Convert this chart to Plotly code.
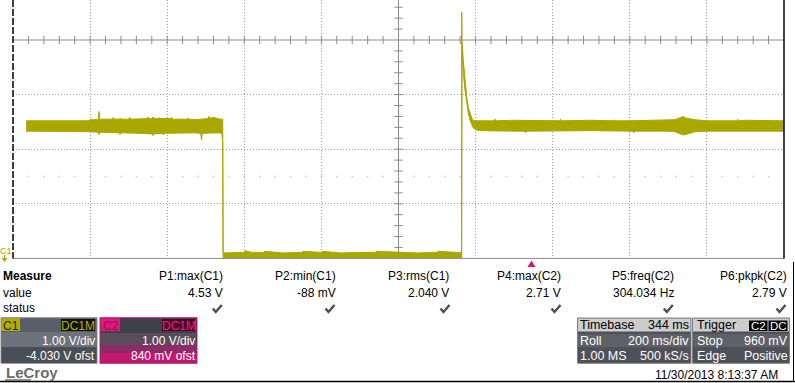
import plotly.graph_objects as go

W, H = 795, 383

# ---------------- data ----------------
t_range = [-1000, 1000]          # ms, 200 ms/div, 10 divisions
v_range = [0.03, 4.7626]         # V, 1.00 V/div, -4.030 V offset
grid_t = [-800, -600, -400, -200, 200, 400, 600, 800]
grid_v = [1.03, 2.03, 3.03]
center_t = 0
center_v = 4.03
trigger_t = 345

# C1 trace, upper envelope
hi_t = [-966, -805, -800, -779, -777, -775, -742, -740, -738, -724, -722, -720, -699, -697, -695,
        -671, -652, -650, -648, -640, -637, -634, -622, -620, -618, -590, -588, -586, -567,
        -548, -546, -544, -528, -494, -492, -490, -485, -483, -481, -479, -463, -456, -455,
        -430, -400, -398, -380, -350, -348, -300, -250, -248, -200, -198, -150, -100, -60, -58,
        0, 50, 100, 102, 150, 163.5,
        164, 164.8, 168, 172.5, 177, 181, 185.5, 190, 194, 203, 248, 250, 252, 300, 400,
        418, 420, 422, 500, 558, 560, 562, 600, 700,
        717, 735, 740, 745, 769, 800, 878, 880, 882, 900, 1000]
hi_v = [2.55, 2.55, 2.57, 2.57, 2.72, 2.58, 2.58, 2.61, 2.58, 2.58, 2.60, 2.58, 2.58, 2.61, 2.58,
        2.59, 2.59, 2.62, 2.59, 2.59, 2.62, 2.59, 2.59, 2.61, 2.59, 2.59, 2.61, 2.58, 2.58,
        2.58, 2.60, 2.58, 2.57, 2.59, 2.63, 2.60, 2.60, 2.62, 2.60, 2.61, 2.58, 2.58, 0.13,
        0.14, 0.14, 0.17, 0.14, 0.14, 0.16, 0.13, 0.14, 0.16, 0.14, 0.16, 0.13, 0.14, 0.14, 0.16,
        0.14, 0.13, 0.14, 0.16, 0.14, 0.14,
        4.54, 4.03, 3.66, 3.30, 2.99, 2.80, 2.69, 2.60, 2.55, 2.55, 2.55, 2.58, 2.55, 2.56, 2.55,
        2.55, 2.58, 2.55, 2.56, 2.55, 2.57, 2.55, 2.55, 2.56,
        2.57, 2.62, 2.63, 2.60, 2.57, 2.55, 2.55, 2.58, 2.55, 2.56, 2.55]
# C1 trace, lower envelope
lo_t = [-966, -805, -800, -779, -777, -775, -724, -722, -720, -671, -640, -637, -634,
        -612, -610, -608, -567, -528, -513, -511, -509, -479, -463, -458, -456, -455,
        164, 164.8, 168, 172.5, 177, 181, 185.5, 190, 194, 203, 211, 300, 328, 330, 332, 500,
        608, 610, 612, 700, 717, 735, 738, 750, 769, 800, 1000]
lo_v = [2.36, 2.36, 2.35, 2.34, 2.30, 2.34, 2.33, 2.30, 2.33, 2.32, 2.31, 2.28, 2.31,
        2.32, 2.29, 2.32, 2.33, 2.33, 2.32, 2.20, 2.32, 2.33, 2.33, 2.31, 2.14, 0.035,
        0.035, 3.85, 3.43, 3.11, 2.84, 2.69, 2.56, 2.47, 2.42, 2.38, 2.37, 2.36, 2.36, 2.33, 2.36,
        2.37, 2.36, 2.33, 2.36, 2.36, 2.35, 2.30, 2.29, 2.31, 2.35, 2.36, 2.36]

measure_names = ["P1:max(C1)", "P2:min(C1)", "P3:rms(C1)", "P4:max(C2)", "P5:freq(C2)", "P6:pkpk(C2)"]
measure_values = ["4.53 V", "-88 mV", "2.040 V", "2.71 V", "304.034 Hz", "2.79 V"]

# ---------------- styling / layout helpers ----------------
OLIVE = "#aaa700"
GRID = "#9c9c9c"
AXIS = "#8a8a8a"
FONT = "Liberation Sans, Arial, sans-serif"
X0, X1, YB = 13, 784, 258.4


def px(x):
    return x / W


def py(y):
    return 1 - y / H


def ann(text, x, y, anchor="left", size=12, color="#000", bold=False, family=FONT):
    if bold:
        text = "<b>" + text + "</b>"
    return dict(text=text, x=px(x), y=py(y), xref="paper", yref="paper",
                xanchor=anchor, yanchor="middle", showarrow=False, borderpad=0,
                font=dict(family=family, size=size, color=color))


def rect(x0, y0, x1, y1, fill, line=None, lw=0, layer="above"):
    return dict(type="rect", xref="paper", yref="paper", x0=px(x0), x1=px(x1),
                y0=py(y0), y1=py(y1), fillcolor=fill, layer=layer,
                line=dict(color=line or fill, width=lw))


def seg(x0, y0, x1, y1, color, width=1, dash="solid", layer="above"):
    return dict(type="line", xref="paper", yref="paper", x0=px(x0), x1=px(x1),
                y0=py(y0), y1=py(y1), layer=layer,
                line=dict(color=color, width=width, dash=dash))


fig = go.Figure()

# center-axis tick marks (graticule decoration)
tick_t = [-960 + 40 * i for i in range(49)]
tick_v = [center_v - 0.2 * i for i in range(1, 20)] + [center_v + 0.2 * i for i in range(1, 4)]
fig.add_trace(go.Scatter(x=tick_t, y=[center_v] * len(tick_t), mode="markers", hoverinfo="skip",
                         marker=dict(symbol="line-ns", size=6, line=dict(width=1, color=AXIS))))
fig.add_trace(go.Scatter(x=[center_t] * len(tick_v), y=tick_v, mode="markers", hoverinfo="skip",
                         marker=dict(symbol="line-ew", size=6, line=dict(width=1, color=AXIS))))
fig.add_trace(go.Scatter(x=tick_t, y=[1.53] * len(tick_t), mode="markers", hoverinfo="skip",
                         marker=dict(symbol="square", size=1.5, color="#c8c8c8")))
fig.add_trace(go.Scatter(x=[1011] * len(tick_v), y=tick_v, mode="markers", hoverinfo="skip",
                         cliponaxis=False,
                         marker=dict(symbol="line-ew", size=6, line=dict(width=1, color="#cfcfcf"))))

# C1 waveform as a filled envelope
fig.add_trace(go.Scatter(x=lo_t, y=lo_v, mode="lines", hoverinfo="skip",
                         line=dict(color=OLIVE, width=1)))
fig.add_trace(go.Scatter(x=hi_t, y=hi_v, mode="lines", hoverinfo="skip", fill="tonexty",
                         fillcolor=OLIVE, line=dict(color=OLIVE, width=1)))

shapes = []
# graticule borders / center lines
shapes.append(seg(398.5, 0, 398.5, YB, AXIS, 1, layer="below"))
shapes.append(seg(X0, 40, X1, 40, AXIS, 1, layer="below"))
shapes.append(seg(X0, YB, X1, YB, AXIS, 1))
shapes.append(seg(X0, 0, X0, YB, "#000", 1.5, dash="7px,2px"))
shapes.append(seg(X1, 0, X1, YB, "#000", 1.5))

# trigger position marker
tx = X0 + (trigger_t - t_range[0]) / (t_range[1] - t_range[0]) * (X1 - X0)
shapes.append(dict(type="path", xref="paper", yref="paper", fillcolor="#d8147c",
                   line=dict(color="#d8147c", width=0),
                   path="M {:.5f},{:.5f} L {:.5f},{:.5f} L {:.5f},{:.5f} Z".format(
                       px(tx), py(260.5), px(tx - 4), py(267), px(tx + 4), py(267))))

# C1 ground arrow
shapes.append(seg(4.5, 255, 4.5, 260, OLIVE, 1))
shapes.append(dict(type="path", xref="paper", yref="paper", fillcolor=OLIVE,
                   line=dict(color=OLIVE, width=0),
                   path="M {:.5f},{:.5f} L {:.5f},{:.5f} L {:.5f},{:.5f} Z".format(
                       px(1.5), py(258), px(7.5), py(258), px(4.5), py(262))))

# status check marks drawn as thick strokes
check_x = [217.3, 330, 445, 556, 668.3, 781]
for cx in check_x:
    shapes.append(dict(type="path", xref="paper", yref="paper", layer="above",
                       line=dict(color="#4d4d4d", width=2.4),
                       path="M {:.5f},{:.5f} L {:.5f},{:.5f} L {:.5f},{:.5f}".format(
                           px(cx - 4.5), py(308.5), px(cx - 1.5), py(312), px(cx + 4.5), py(305))))

# C1 channel box
shapes += [rect(1, 317.7, 97, 363.3, "#5a5e66", "#8d9198", 1),
           rect(1.5, 332, 96.5, 347, "#6e727a"),
           rect(1.5, 347, 96.5, 362.8, "#4a4e56"),
           rect(1.5, 318.2, 20, 331, "#b4ae00"),
           rect(61, 319, 95, 331, "#111111")]
# C2 channel box
shapes += [rect(100, 317.7, 197, 363.3, "#3f4149", "#c81f7a", 1),
           rect(100.5, 333, 196.5, 345, "#5a4c5a"),
           rect(100.5, 345, 196.5, 353, "#8e2a68"),
           rect(100.5, 353, 196.5, 362.8, "#c4186f"),
           rect(100.5, 318.2, 120, 331, "#e0187e"),
           rect(162, 319, 195, 331, "#4a0b24")]
# Timebase box
shapes += [rect(577.5, 318, 691, 363.3, "#4e5158", "#7d8086", 1),
           rect(578, 318.5, 690.5, 331.5, "#cdcdcd"),
           rect(578, 334, 690.5, 347, "#5e6168")]
# Trigger box
shapes += [rect(692.5, 318, 789.5, 363.3, "#4e5158", "#7d8086", 1),
           rect(693, 318.5, 789, 331.5, "#cdcdcd"),
           rect(693, 334, 789, 347, "#5e6168"),
           rect(749, 320.5, 767.5, 331, "#000000"),
           rect(768.5, 320.5, 787.5, 331, "#000000")]
# frame lines of the lower panel and logo underline
shapes.append(seg(0, 381.5, W, 381.5, "#000", 1.5))
shapes.append(seg(793.5, 262, 793.5, 382, "#000", 1))
shapes.append(seg(5, 380, 31, 380, "#6a6a6a", 1.5))

annotations = []
annotations.append(ann("C1", 5.5, 251, "center", size=9, color=OLIVE))
annotations.append(ann("Measure", 2, 276.3, bold=True))
annotations.append(ann("value", 2, 292.5))
annotations.append(ann("status", 2, 308))
right_edges = [224, 337, 450, 561.7, 675, 787.7]
for name, val, xr in zip(measure_names, measure_values, right_edges):
    annotations.append(ann(name, xr, 276.3, "right"))
    annotations.append(ann(val, xr, 292.8, "right"))

# channel box texts
annotations += [ann("C1", 10.7, 325.5, "center", color="#2b2a00"),
                ann("DC1M", 78, 325.5, "center", color="#b8b200"),
                ann("1.00 V/div", 95.5, 341.2, "right", color="#ffffff"),
                ann("-4.030 V ofst", 95.5, 356.2, "right", color="#ffffff"),
                ann("C2", 110.5, 325.5, "center", color="#9a0c4c"),
                ann("DC1M", 178.5, 325.5, "center", color="#e8208a"),
                ann("1.00 V/div", 195.5, 341.2, "right", color="#ffffff"),
                ann("840 mV ofst", 196.5, 356.2, "right", color="#ffffff")]
# timebase / trigger texts
annotations += [ann("Timebase", 579, 325, size=12.5),
                ann("344 ms", 689.5, 325, "right", size=12.5),
                ann("Roll", 579, 340.8, color="#ffffff", size=12.5),
                ann("200 ms/div", 689.5, 340.8, "right", color="#ffffff", size=12.5),
                ann("1.00 MS", 579, 356, color="#ffffff", size=12.5),
                ann("500 kS/s", 689.5, 356, "right", color="#ffffff", size=12.5),
                ann("Trigger", 695.5, 325, size=12.5),
                ann("C2", 758.2, 325.8, "center", color="#ffffff", size=11.5),
                ann("DC", 778, 325.8, "center", color="#ffffff", size=11.5),
                ann("Stop", 695.5, 340.8, color="#ffffff", size=12.5),
                ann("960 mV", 788.5, 340.8, "right", color="#ffffff", size=12.5),
                ann("Edge", 695.5, 356, color="#ffffff", size=12.5),
                ann("Positive", 788.5, 356, "right", color="#ffffff", size=12.5)]
annotations.append(ann("11/30/2013 8:13:37 AM", 778.5, 374.5, "right"))
annotations.append(ann("LeCroy", 4.5, 372.5, bold=True, size=15, color="#6a6a6a"))

fig.update_layout(
    width=W, height=H, margin=dict(l=0, r=0, t=0, b=0),
    paper_bgcolor="#ffffff", plot_bgcolor="rgba(0,0,0,0)", showlegend=False,
    xaxis=dict(domain=[X0 / W, X1 / W], range=t_range, tickvals=grid_t, showticklabels=False,
               ticks="", showgrid=True, gridcolor=GRID, griddash="1px,2px", gridwidth=1,
               zeroline=False, showline=False, fixedrange=True),
    yaxis=dict(domain=[1 - YB / H, 1], range=v_range, tickvals=grid_v, showticklabels=False,
               ticks="", showgrid=True, gridcolor=GRID, griddash="1px,2px", gridwidth=1,
               zeroline=False, showline=False, fixedrange=True),
    shapes=shapes, annotations=annotations,
)

fig.write_html("out.html")
